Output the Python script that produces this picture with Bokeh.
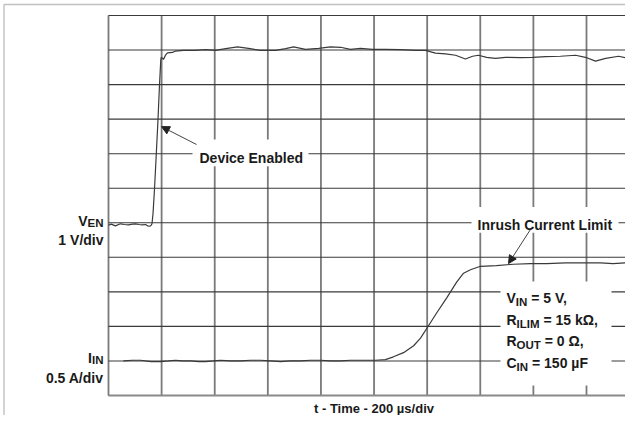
from bokeh.plotting import figure
from bokeh.models import Range1d, Label, BoxAnnotation, Arrow, NormalHead
from bokeh.embed import file_html
from bokeh.resources import INLINE

# ---------------- data ----------------
# V_EN trace: time in microseconds, voltage in volts (1 V/div)
t_ven = [0, 10, 26, 45, 60, 75, 90, 102, 115, 128, 140, 147, 155, 160,
         163.8, 167.6, 173.2, 180.8, 186.4, 192.0, 196.9, 198.8, 207.1, 214.6,
         222.2, 241, 252, 282, 328, 365, 403, 441, 486, 527, 572, 629, 667,
         697, 742, 791, 836, 874, 911, 949, 994, 1043, 1100, 1156, 1194, 1231,
         1269, 1307, 1344, 1371, 1393, 1424, 1457, 1495, 1552, 1597, 1646,
         1702, 1759, 1796, 1834, 1872, 1921, 1958]
v_en = [-0.07, -0.04, -0.09, -0.03, -0.05, -0.06, -0.04, -0.03, -0.05, -0.06, -0.05, -0.09, -0.1, -0.08,
        -0.03, 0.26, 0.97, 2.12, 2.98, 3.99, 4.71, 4.79, 4.73, 4.85,
        4.92, 4.93, 4.97, 4.99, 4.99, 5.01, 4.99, 5.04, 5.09, 5.05, 4.99, 4.99, 5.04,
        5.09, 5.02, 5.05, 5.09, 5.08, 5.02, 5.05, 5.02, 5.02, 5.01, 4.99, 4.99, 4.91,
        4.89, 4.85, 4.74, 4.82, 4.85, 4.79, 4.76, 4.79, 4.78, 4.79, 4.81,
        4.82, 4.85, 4.79, 4.68, 4.76, 4.82, 4.76]

# I_IN trace: time in microseconds, current in amperes (0.5 A/div)
t_iin = [56, 90, 121, 160, 196, 225, 252, 280, 309, 340, 365, 395, 422, 460, 497,
         535, 572, 610, 648, 685, 723, 760, 798, 836, 874, 911, 949, 1006, 1043,
         1073, 1111, 1149, 1175, 1205, 1235, 1273, 1311, 1337, 1363, 1401, 1461,
         1525, 1589, 1650, 1721, 1777, 1853, 1900, 1951]
i_in = [0.0, 0.01, 0.01, -0.01, -0.01, 0.0, 0.01, 0.0, 0.0, -0.01, -0.01, 0.0, 0.01, 0.0, 0.0,
        0.01, 0.01, 0.0, -0.01, 0.0, 0.0, 0.01, 0.01, 0.0, 0.0, 0.01, 0.01, 0.01, 0.02,
        0.06, 0.12, 0.22, 0.33, 0.51, 0.69, 0.91, 1.14, 1.27, 1.32, 1.37, 1.38,
        1.40, 1.41, 1.41, 1.42, 1.42, 1.42, 1.41, 1.42]

time_ticks = [0, 200, 400, 600, 800, 1000, 1200, 1400, 1600, 1800]
volt_ticks = [-5, -4, -3, -2, -1, 0, 1, 2, 3, 4, 5, 6]

x_title = "t - Time - 200 \u00b5s/div"
cond_lines = [("V", "IN", "= 5 V,"),
              ("R", "ILIM", "= 15 k\u03a9,"),
              ("R", "OUT", "= 0 \u03a9,"),
              ("C", "IN", "= 150 \u00b5F")]

# ---------------- layout geometry (picture pixels) ----------------
W, H = 625, 415                    # visible canvas
FL, FT, FB = 108, 15, 395          # oscillogram grid left / top / bottom
DIVX = (586 - 108) / 9.0
DIVY = (FB - FT) / 11.0
US_PER_DIV = 200.0
V_PER_DIV, A_PER_DIV = 1.0, 0.5
V_ZERO_DIV, I_ZERO_DIV = 5, 1      # divisions above the bottom grid line


def tx(px):
    return (px - FL) / DIVX * US_PER_DIV


def vy(py):
    return ((FB - py) / DIVY - V_ZERO_DIV) * V_PER_DIV


def iy(py):
    return ((FB - py) / DIVY - I_ZERO_DIV) * A_PER_DIV


def ry(py_ref):
    # map a reference-picture row onto the slightly compressed graticule
    return FT + (py_ref - 15) * (FB - FT) / (398 - 15)


T_END = tx(640)

BOLD_W = {' ': 278, ',': 278, '.': 278, '=': 584, '/': 278, '-': 333,
          '0': 556, '1': 556, '2': 556, '3': 556, '4': 556, '5': 556,
          'A': 722, 'C': 722, 'E': 667, 'F': 611, 'I': 278, 'L': 611, 'M': 833,
          'N': 722, 'O': 778, 'R': 722, 'T': 611, 'U': 722, 'V': 667,
          'k': 556, '\u03a9': 770, '\u00b5': 611}


def tw(s, size):
    return sum(BOLD_W.get(c, 556) for c in s) * size / 1000.0


FONT = "Liberation Sans"
BIG, SUB = 14, 11.5
TXT = "#1a1a1a"

p = figure(width=W, height=H, output_backend="svg", toolbar_location=None,
           x_axis_location=None, y_axis_location=None,
           x_range=Range1d(tx(0), tx(W)), y_range=Range1d(vy(H), vy(0)),
           min_border_left=0, min_border_right=0, min_border_top=0, min_border_bottom=0,
           outline_line_color=None, background_fill_color="white",
           border_fill_color="white")
p.extra_y_ranges = {"i": Range1d(iy(H), iy(0))}
p.grid.visible = False

# outer figure frame (top and left edges visible)
p.add_layout(BoxAnnotation(left=tx(3.5), right=tx(700), top=vy(4), bottom=vy(480),
                           fill_alpha=0, line_color="#333333", line_width=1.4))

# oscillogram graticule, built from the tick lists
nt, nv = len(time_ticks), len(volt_ticks)
p.segment(x0=time_ticks, y0=[volt_ticks[0]] * nt, x1=time_ticks, y1=[volt_ticks[-1]] * nt,
          line_color="#7a7a7a", line_width=1.8)
p.segment(x0=[0] * nv, y0=volt_ticks, x1=[T_END] * nv, y1=volt_ticks,
          line_color="#3a3a3a", line_width=1.1)
p.segment(x0=[0], y0=volt_ticks[:1], x1=[T_END], y1=volt_ticks[:1],
          line_color="#8a8a8a", line_width=2.2)

p.line(t_ven, v_en, line_color="#3a3a3a", line_width=1.2)
p.line(t_iin, i_in, line_color="#3a3a3a", line_width=1.2, y_range_name="i")

# white boxes that cut the grid behind the annotations
for l, r, t, b in [(192, 308, 140, 167), (471, 618, 208, 234), (500, 611, 283, 388)]:
    p.add_layout(BoxAnnotation(left=tx(l), right=tx(r), top=vy(ry(t)), bottom=vy(ry(b)),
                               fill_color="white", fill_alpha=1.0, line_color=None))

for (x0, y0, x1, y1) in [(196, 145, 161, 127), (531, 229, 508, 265)]:
    p.add_layout(Arrow(end=NormalHead(size=8, fill_color="#222", line_color="#222"),
                       x_start=tx(x0), y_start=vy(ry(y0)), x_end=tx(x1), y_end=vy(ry(y1)),
                       line_color="#444", line_width=1))


def lab(x, y, text, size=BIG, align="left"):
    p.add_layout(Label(x=x, y=y, text=text, text_font=FONT, text_font_style="bold",
                       text_font_size=f"{size}px", text_color=TXT, text_align=align,
                       text_baseline="alphabetic"))


lab(tx(199), vy(ry(159)), "Device Enabled")
lab(tx(477), vy(ry(226)), "Inrush Current Limit")
lab(tx(373.5), vy(408), x_title, 13, "center")

# left channel labels
RX = 103
lab(tx(RX), vy(ry(224.5)), "EN", SUB, "right")
lab(tx(RX - tw("EN", SUB)), vy(ry(222)), "V", BIG, "right")
lab(tx(RX), vy(ry(241)), "1 V/div", BIG, "right")
lab(tx(RX), vy(ry(362.5)), "IN", SUB, "right")
lab(tx(RX - tw("IN", SUB)), vy(ry(360)), "I", BIG, "right")
lab(tx(RX), vy(ry(380)), "0.5 A/div", BIG, "right")

# test-condition block
CX = 506
for k, (a, s, rest) in enumerate(cond_lines):
    base = [300, 322, 343, 365][k]
    lab(tx(CX), vy(ry(base)), a)
    x2 = CX + tw(a, BIG)
    lab(tx(x2), vy(ry(base + 4)), s, SUB)
    lab(tx(x2 + tw(s, SUB) + tw(" ", BIG)), vy(ry(base)), rest)

open("out.html", "w").write(file_html(p, INLINE))
